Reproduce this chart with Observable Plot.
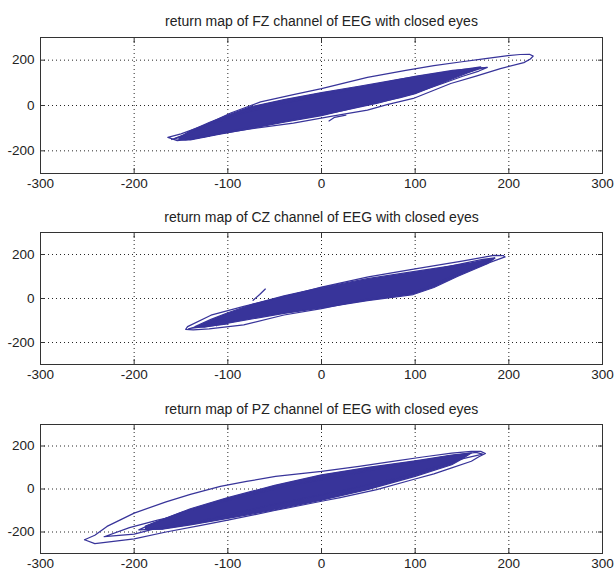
<!DOCTYPE html>
<html>
<head>
<meta charset="utf-8">
<script src="https://cdn.jsdelivr.net/npm/d3@7"></script>
<script src="https://cdn.jsdelivr.net/npm/@observablehq/plot@0.6"></script>
<style>
  html, body { margin: 0; padding: 0; background: #fff; }
  #chart { width: 614px; height: 572px; overflow: hidden; }
  #chart svg { display: block; }
</style>
</head>
<body>
<div id="chart"></div>
<script>
// ---- tick labels and grid ----
const xTicks = [-300, -200, -100, 0, 100, 200, 300];
const yTicks = [-200, 0, 200];
const xGrid = [-200, -100, 0, 100, 200];
const yGrid = [-200, 0, 200];

const titles = [
  "return map of FZ channel of EEG with closed eyes",
  "return map of CZ channel of EEG with closed eyes",
  "return map of PZ channel of EEG with closed eyes"
];

// ---- FZ: dense core outline and outer trajectory loops [x(n), x(n+1)] ----
const fzCore = [[-152,-142],[-140,-112],[-120,-75],[-100,-42],[-76,-6],[-40,26],[0,57],[40,85],[84,116],[120,140],[150,158],[170,170],
  [160,150],[140,118],[120,85],[100,52],[84,35],[40,-5],[0,-45],[-40,-74],[-76,-102],[-110,-128],[-140,-152],[-152,-152]];
const fzLoopA = [[-164,-141],[-150,-125],[-125,-88],[-97,-33],[-65,16],[-30,48],[0,74],[49,124],[90,155],[120,176],[150,193],[173,206],[199,220],[212,225],[222,226],[226,218],[223,205],[216,189],[191,163],[165,130],[138,97],[118,64],[98,31],[70,4],[49,-20],[13,-46],[-30,-78],[-76,-103],[-110,-125],[-135,-145],[-154,-155],[-164,-141]];
const fzLoopB = [[-157,-146],[-140,-118],[-118,-82],[-90,-40],[-50,2],[0,45],[50,88],[100,128],[140,155],[177,168],[168,152],[150,128],[130,98],[100,55],[60,10],[20,-25],[-30,-62],[-80,-100],[-120,-133],[-145,-152],[-157,-146]];
const fzLoopC = [[120,138],[150,155],[172,166],[160,150],[145,142],[165,160]];
const fzLoopD = [[-160,-150],[-150,-136],[-135,-128],[-120,-135],[-145,-148],[-130,-140]];
const fzHook = [[8,-68],[14,-52],[26,-42]];

// ---- CZ ----
const czCore = [[-135,-128],[-118,-95],[-100,-65],[-73,-25],[-40,12],[0,50],[49,90],[98,122],[130,143],[160,162],[185,183],
  [177,158],[145,100],[120,50],[98,18],[49,-10],[0,-43],[-40,-68],[-73,-92],[-100,-112],[-125,-130]];
const czLoopA = [[-145,-140],[-143,-128],[-118,-76],[-83,-36],[-40,8],[0,52],[50,98],[100,135],[150,170],[184,196],[194,195],[196,189],[185,172],[177,160],[160,136],[145,112],[125,72],[100,30],[70,8],[50,-2],[0,-46],[-40,-75],[-83,-120],[-120,-138],[-137,-143],[-145,-140]];
const czLoopB = [[-142,-138],[-105,-96],[-100,-115],[-140,-136],[-120,-112],[-112,-124]];
const czLoopC = [[130,140],[172,178],[185,185],[168,165],[150,150],[175,175],[160,150]];
const czStray = [[-73,-8],[-66,18],[-60,43]];

// ---- PZ ----
const pzCore = [[-188,-172],[-170,-142],[-140,-92],[-100,-40],[-50,17],[0,66],[50,101],[100,131],[139,158],[160,168],
  [150,140],[139,113],[100,59],[50,-2],[0,-52],[-50,-97],[-100,-137],[-140,-167],[-170,-187],[-188,-188]];
const pzLoopA = [[-253,-236],[-242,-215],[-229,-174],[-200,-112],[-166,-60],[-140,-25],[-108,12],[-80,35],[-49,59],[0,82],[40,105],[76,129],[110,150],[139,167],[160,175],[170,175],[175,165],[168,150],[160,129],[139,98],[120,70],[97,43],[59,-3],[20,-40],[0,-57],[-50,-100],[-100,-145],[-130,-170],[-166,-200],[-200,-232],[-242,-254],[-253,-236]];
const pzLoopB = [[-195,-190],[-180,-160],[-150,-110],[-120,-75],[-80,-30],[-30,20],[20,60],[80,110],[130,150],[165,170],[172,162],[150,140],[120,100],[80,50],[30,0],[-20,-45],[-80,-100],[-130,-150],[-170,-185],[-195,-190]];
const pzLoopC = [[-232,-222],[-205,-180],[-175,-145],[-150,-120],[-160,-165],[-200,-210],[-232,-222]];

const panels = [
  {title: titles[0], core: fzCore, loops: [fzLoopA, fzLoopB, fzLoopC, fzLoopD, fzHook], marginTop: 37, frameH: 136, marginBottom: 20, titleDy: -16},
  {title: titles[1], core: czCore, loops: [czLoopA, czLoopB, czLoopC, czStray], marginTop: 39, frameH: 132, marginBottom: 21, titleDy: -15},
  {title: titles[2], core: pzCore, loops: [pzLoopA, pzLoopB, pzLoopC], marginTop: 39, frameH: 129, marginBottom: 19, titleDy: -15}
];

const color = "#38349a";
const font = "'Liberation Sans', Arial, Helvetica, sans-serif";

for (const p of panels) {
  const loopData = p.loops.flatMap((loop, i) => loop.map(([x, y]) => ({x, y, k: i})));
  const coreData = p.core.map(([x, y]) => ({x, y}));
  const chart = Plot.plot({
    width: 614,
    height: p.marginTop + p.frameH + p.marginBottom,
    marginLeft: 40,
    marginRight: 12,
    marginTop: p.marginTop,
    marginBottom: p.marginBottom,
    style: {fontFamily: font, color: "#222", background: "#fff", overflow: "visible"},
    x: {domain: [-300, 300], axis: null},
    y: {domain: [-300, 300], axis: null},
    marks: [
      Plot.gridX(xGrid, {stroke: "#000", strokeOpacity: 0.85, strokeDasharray: "1,3"}),
      Plot.gridY(yGrid, {stroke: "#000", strokeOpacity: 0.85, strokeDasharray: "1,3"}),
      Plot.line(coreData, {x: "x", y: "y", fill: color, stroke: color, strokeWidth: 1.2, curve: "linear-closed"}),
      Plot.line(loopData, {x: "x", y: "y", z: "k", stroke: color, strokeWidth: 1.25}),
      Plot.frame({stroke: "#333", strokeWidth: 1}),
      Plot.axisX(xTicks, {anchor: "bottom", tickSize: -5, tickFormat: () => "", label: null, stroke: "#333"}),
      Plot.axisX(xTicks, {anchor: "top", tickSize: -5, tickFormat: () => "", label: null, stroke: "#333"}),
      Plot.axisY(yTicks, {anchor: "left", tickSize: -5, tickFormat: () => "", label: null, stroke: "#333"}),
      Plot.axisY(yTicks, {anchor: "right", tickSize: -5, tickFormat: () => "", label: null, stroke: "#333"}),
      Plot.axisX(xTicks, {anchor: "bottom", tickSize: 0, tickPadding: 5, tickFormat: d => String(d), label: null, fontSize: 13.5, fill: "#222"}),
      Plot.axisY(yTicks, {anchor: "left", tickSize: 0, tickPadding: 6, tickFormat: d => String(d), label: null, fontSize: 13.5, fill: "#222"}),
      Plot.text([p.title], {frameAnchor: "top", dy: p.titleDy, text: d => d, fontSize: 14, fill: "#222", lineAnchor: "middle"})
    ]
  });
  document.getElementById("chart").appendChild(chart);
}
</script>
</body>
</html>
